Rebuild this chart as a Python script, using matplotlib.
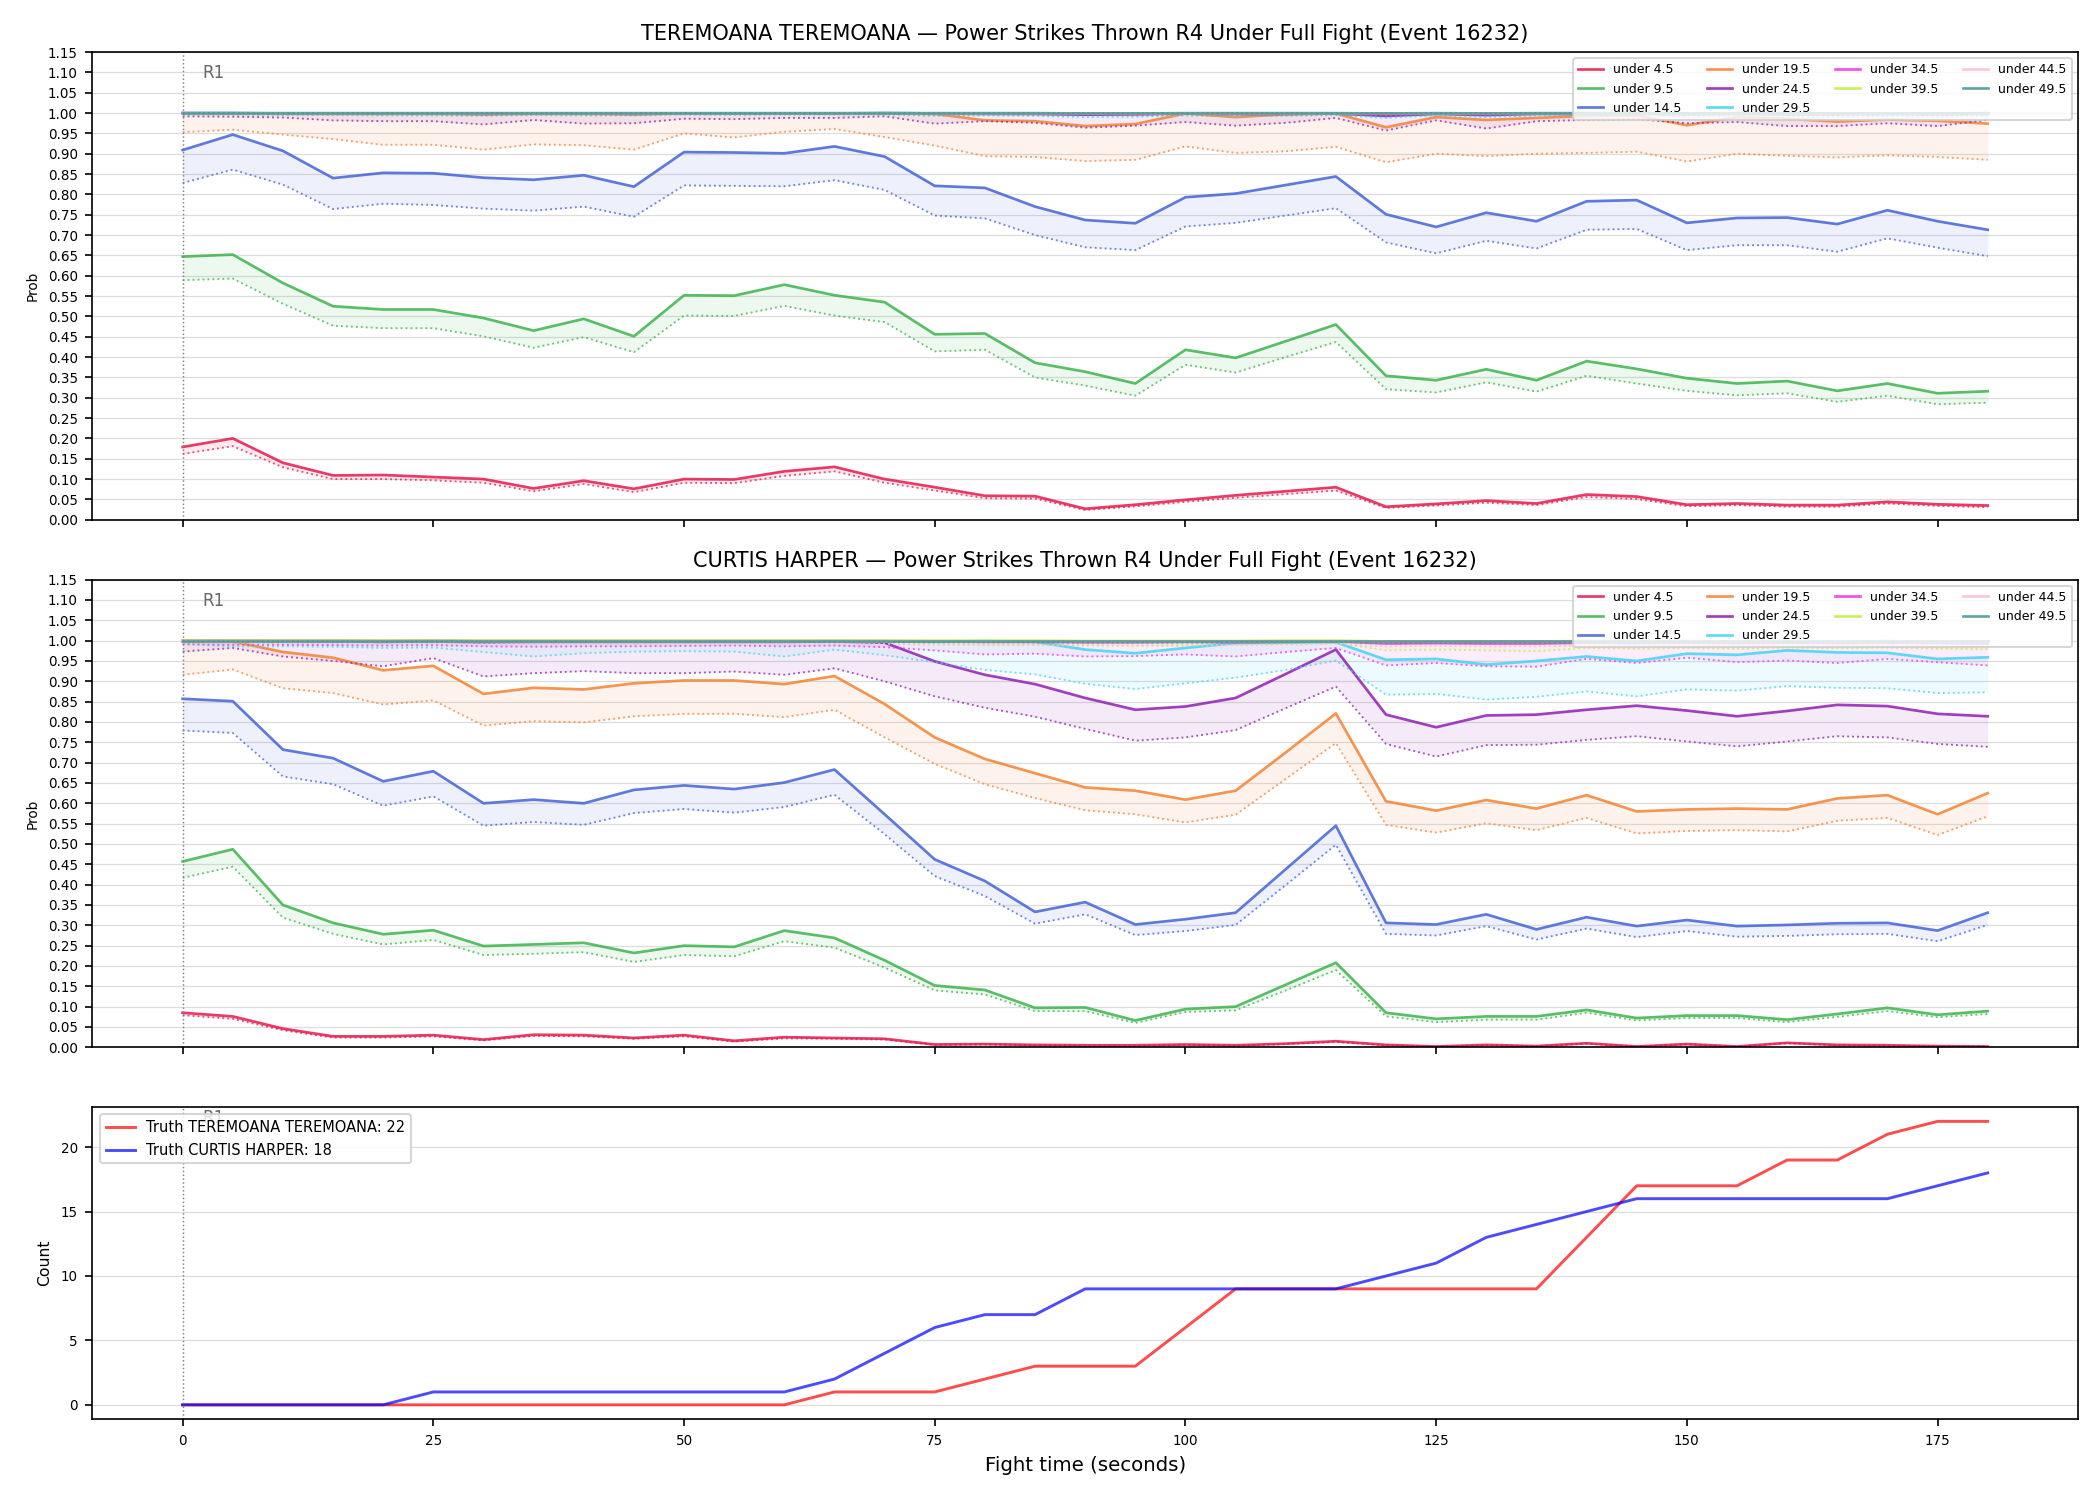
import matplotlib
matplotlib.use("Agg")
import matplotlib.pyplot as plt
import numpy as np
from matplotlib.ticker import FormatStrFormatter

times = list(range(0, 181, 5))

labels = ["under 4.5", "under 9.5", "under 14.5", "under 19.5", "under 24.5",
          "under 29.5", "under 34.5", "under 39.5", "under 44.5", "under 49.5"]
colors = ["#e6194b", "#3cb44b", "#4363d8", "#f58231", "#911eb4",
          "#42d4f4", "#f032e6", "#bfef45", "#fabed4", "#469990"]

# ---- TEREMOANA panel ----
top_u4_5 = [0.179, 0.200, 0.140, 0.109, 0.110, 0.105, 0.100, 0.077, 0.096, 0.076, 0.100, 0.099, 0.119, 0.130, 0.100, 0.080, 0.059, 0.058, 0.027, 0.037, 0.049, 0.060, 0.070, 0.080, 0.032, 0.039, 0.047, 0.040, 0.062, 0.057, 0.037, 0.040, 0.036, 0.036, 0.044, 0.038, 0.035]
top_u4_5_lo = [0.162, 0.181, 0.129, 0.100, 0.100, 0.097, 0.091, 0.070, 0.088, 0.068, 0.091, 0.090, 0.108, 0.119, 0.091, 0.072, 0.053, 0.052, 0.024, 0.033, 0.044, 0.054, 0.063, 0.072, 0.029, 0.035, 0.042, 0.036, 0.056, 0.051, 0.033, 0.036, 0.032, 0.032, 0.040, 0.034, 0.031]
top_u9_5 = [0.647, 0.652, 0.582, 0.525, 0.517, 0.517, 0.496, 0.465, 0.494, 0.451, 0.552, 0.551, 0.578, 0.552, 0.535, 0.456, 0.458, 0.386, 0.364, 0.335, 0.418, 0.398, 0.439, 0.480, 0.354, 0.343, 0.370, 0.343, 0.390, 0.371, 0.348, 0.335, 0.341, 0.317, 0.335, 0.311, 0.316]
top_u9_5_lo = [0.589, 0.593, 0.531, 0.477, 0.471, 0.471, 0.451, 0.423, 0.449, 0.412, 0.502, 0.501, 0.526, 0.502, 0.486, 0.414, 0.418, 0.350, 0.330, 0.305, 0.381, 0.362, 0.400, 0.437, 0.321, 0.313, 0.338, 0.315, 0.354, 0.335, 0.317, 0.306, 0.311, 0.290, 0.305, 0.284, 0.288]
top_u14_5 = [0.909, 0.947, 0.907, 0.840, 0.853, 0.852, 0.841, 0.836, 0.847, 0.819, 0.904, 0.903, 0.901, 0.918, 0.893, 0.821, 0.816, 0.770, 0.737, 0.729, 0.793, 0.802, 0.823, 0.844, 0.751, 0.720, 0.755, 0.734, 0.783, 0.786, 0.730, 0.742, 0.743, 0.727, 0.761, 0.734, 0.713]
top_u14_5_lo = [0.828, 0.861, 0.824, 0.764, 0.777, 0.774, 0.765, 0.760, 0.770, 0.745, 0.822, 0.821, 0.820, 0.835, 0.811, 0.748, 0.741, 0.700, 0.670, 0.663, 0.721, 0.730, 0.748, 0.766, 0.682, 0.655, 0.686, 0.667, 0.713, 0.715, 0.663, 0.675, 0.675, 0.659, 0.692, 0.669, 0.648]
top_u19_5 = [0.999, 0.999, 0.998, 0.998, 0.998, 0.998, 0.997, 0.998, 0.998, 0.997, 0.999, 0.999, 0.999, 0.999, 0.999, 0.998, 0.982, 0.980, 0.968, 0.973, 0.999, 0.990, 0.997, 0.999, 0.965, 0.990, 0.983, 0.988, 0.993, 0.994, 0.970, 0.990, 0.986, 0.979, 0.984, 0.981, 0.974]
top_u19_5_lo = [0.953, 0.959, 0.947, 0.936, 0.922, 0.922, 0.910, 0.923, 0.921, 0.910, 0.950, 0.940, 0.954, 0.961, 0.941, 0.920, 0.894, 0.892, 0.882, 0.885, 0.918, 0.902, 0.906, 0.917, 0.879, 0.900, 0.894, 0.900, 0.902, 0.905, 0.881, 0.900, 0.895, 0.891, 0.896, 0.892, 0.885]
top_u24_5 = [1.000, 1.000, 0.999, 0.999, 0.999, 0.999, 0.998, 0.999, 0.999, 0.998, 0.999, 0.999, 0.999, 0.999, 1.000, 0.999, 0.998, 0.998, 0.996, 0.997, 0.999, 0.998, 0.998, 0.999, 0.993, 0.998, 0.995, 0.998, 0.998, 0.998, 0.997, 0.998, 0.997, 0.997, 0.998, 0.997, 0.998]
top_u24_5_lo = [0.992, 0.991, 0.989, 0.982, 0.980, 0.980, 0.972, 0.983, 0.974, 0.975, 0.986, 0.985, 0.988, 0.988, 0.992, 0.974, 0.980, 0.976, 0.964, 0.969, 0.978, 0.969, 0.976, 0.988, 0.957, 0.982, 0.962, 0.980, 0.983, 0.985, 0.975, 0.978, 0.968, 0.968, 0.975, 0.968, 0.983]
top_u29_5 = [1.000, 1.000, 1.000, 1.000, 1.000, 1.000, 1.000, 1.000, 1.000, 1.000, 1.000, 1.000, 1.000, 1.000, 1.000, 1.000, 1.000, 1.000, 0.999, 0.999, 1.000, 1.000, 1.000, 1.000, 0.999, 1.000, 0.999, 1.000, 1.000, 1.000, 0.999, 1.000, 0.999, 0.999, 0.999, 0.999, 1.000]
top_u29_5_lo = [0.996, 0.996, 0.995, 0.995, 0.994, 0.994, 0.993, 0.995, 0.994, 0.994, 0.996, 0.995, 0.996, 0.996, 0.996, 0.993, 0.994, 0.993, 0.990, 0.991, 0.994, 0.992, 0.993, 0.995, 0.988, 0.994, 0.990, 0.994, 0.994, 0.995, 0.992, 0.993, 0.991, 0.991, 0.992, 0.991, 0.994]
top_u34_5 = [1.000, 1.000, 1.000, 1.000, 1.000, 1.000, 1.000, 1.000, 1.000, 1.000, 1.000, 1.000, 1.000, 1.000, 1.000, 1.000, 1.000, 1.000, 1.000, 1.000, 1.000, 1.000, 1.000, 1.000, 1.000, 1.000, 1.000, 1.000, 1.000, 1.000, 1.000, 1.000, 1.000, 1.000, 1.000, 1.000, 1.000]
top_u34_5_lo = [0.998, 0.998, 0.998, 0.997, 0.997, 0.997, 0.996, 0.997, 0.997, 0.996, 0.998, 0.998, 0.998, 0.998, 0.998, 0.996, 0.997, 0.996, 0.995, 0.995, 0.997, 0.996, 0.996, 0.997, 0.994, 0.997, 0.995, 0.997, 0.997, 0.997, 0.996, 0.996, 0.995, 0.995, 0.996, 0.995, 0.997]
top_u39_5 = [1.000, 1.000, 1.000, 1.000, 1.000, 1.000, 1.000, 1.000, 1.000, 1.000, 1.000, 1.000, 1.000, 1.000, 1.000, 1.000, 1.000, 1.000, 1.000, 1.000, 1.000, 1.000, 1.000, 1.000, 1.000, 1.000, 1.000, 1.000, 1.000, 1.000, 1.000, 1.000, 1.000, 1.000, 1.000, 1.000, 1.000]
top_u39_5_lo = [0.999, 0.999, 0.999, 0.999, 0.999, 0.999, 0.998, 0.999, 0.999, 0.998, 0.999, 0.999, 0.999, 0.999, 0.999, 0.998, 0.999, 0.998, 0.998, 0.998, 0.999, 0.998, 0.998, 0.999, 0.997, 0.999, 0.998, 0.999, 0.999, 0.999, 0.998, 0.998, 0.998, 0.998, 0.998, 0.998, 0.999]
top_u44_5 = [1.000, 1.000, 1.000, 1.000, 1.000, 1.000, 1.000, 1.000, 1.000, 1.000, 1.000, 1.000, 1.000, 1.000, 1.000, 1.000, 1.000, 1.000, 1.000, 1.000, 1.000, 1.000, 1.000, 1.000, 1.000, 1.000, 1.000, 1.000, 1.000, 1.000, 1.000, 1.000, 1.000, 1.000, 1.000, 1.000, 1.000]
top_u44_5_lo = [0.999, 0.999, 0.999, 0.999, 0.999, 0.999, 0.999, 0.999, 0.999, 0.999, 0.999, 0.999, 0.999, 0.999, 0.999, 0.999, 0.999, 0.999, 0.999, 0.999, 0.999, 0.999, 0.999, 0.999, 0.999, 0.999, 0.999, 0.999, 0.999, 0.999, 0.999, 0.999, 0.999, 0.999, 0.999, 0.999, 0.999]
top_u49_5 = [1.000, 1.000, 1.000, 1.000, 1.000, 1.000, 1.000, 1.000, 1.000, 1.000, 1.000, 1.000, 1.000, 1.000, 1.000, 1.000, 1.000, 1.000, 1.000, 1.000, 1.000, 1.000, 1.000, 1.000, 1.000, 1.000, 1.000, 1.000, 1.000, 1.000, 1.000, 1.000, 1.000, 1.000, 1.000, 1.000, 1.000]
top_u49_5_lo = [1.000, 1.000, 1.000, 1.000, 1.000, 1.000, 1.000, 1.000, 1.000, 1.000, 1.000, 1.000, 1.000, 1.000, 1.000, 1.000, 1.000, 1.000, 1.000, 1.000, 1.000, 1.000, 1.000, 1.000, 1.000, 1.000, 1.000, 1.000, 1.000, 1.000, 1.000, 1.000, 1.000, 1.000, 1.000, 1.000, 1.000]

# ---- CURTIS HARPER panel ----
mid_u4_5 = [0.085, 0.076, 0.046, 0.027, 0.027, 0.030, 0.019, 0.031, 0.030, 0.023, 0.030, 0.016, 0.025, 0.023, 0.021, 0.007, 0.008, 0.006, 0.005, 0.005, 0.007, 0.005, 0.009, 0.015, 0.006, 0.002, 0.006, 0.003, 0.010, 0.002, 0.008, 0.002, 0.011, 0.006, 0.005, 0.003, 0.002]
mid_u4_5_lo = [0.079, 0.070, 0.042, 0.024, 0.024, 0.027, 0.017, 0.028, 0.027, 0.021, 0.027, 0.014, 0.022, 0.021, 0.019, 0.006, 0.007, 0.005, 0.004, 0.004, 0.006, 0.004, 0.008, 0.013, 0.005, 0.002, 0.005, 0.003, 0.009, 0.002, 0.007, 0.002, 0.010, 0.005, 0.004, 0.003, 0.002]
mid_u9_5 = [0.457, 0.487, 0.350, 0.306, 0.278, 0.288, 0.249, 0.253, 0.257, 0.232, 0.250, 0.247, 0.287, 0.269, 0.214, 0.152, 0.141, 0.097, 0.098, 0.066, 0.094, 0.100, 0.154, 0.208, 0.085, 0.070, 0.076, 0.076, 0.092, 0.072, 0.078, 0.078, 0.068, 0.082, 0.097, 0.080, 0.089]
mid_u9_5_lo = [0.417, 0.444, 0.319, 0.279, 0.253, 0.264, 0.227, 0.230, 0.234, 0.210, 0.227, 0.224, 0.261, 0.245, 0.196, 0.140, 0.130, 0.089, 0.089, 0.060, 0.087, 0.091, 0.140, 0.190, 0.076, 0.062, 0.068, 0.068, 0.085, 0.066, 0.072, 0.072, 0.062, 0.075, 0.089, 0.074, 0.082]
mid_u14_5 = [0.857, 0.851, 0.732, 0.711, 0.654, 0.679, 0.600, 0.609, 0.600, 0.633, 0.644, 0.635, 0.651, 0.683, 0.573, 0.462, 0.409, 0.333, 0.357, 0.302, 0.315, 0.331, 0.438, 0.545, 0.306, 0.302, 0.327, 0.290, 0.320, 0.298, 0.313, 0.298, 0.301, 0.305, 0.306, 0.287, 0.331]
mid_u14_5_lo = [0.779, 0.773, 0.666, 0.647, 0.594, 0.617, 0.545, 0.554, 0.547, 0.576, 0.586, 0.577, 0.591, 0.621, 0.524, 0.421, 0.372, 0.304, 0.327, 0.276, 0.286, 0.301, 0.399, 0.498, 0.279, 0.275, 0.298, 0.265, 0.292, 0.271, 0.286, 0.272, 0.274, 0.278, 0.279, 0.261, 0.301]
mid_u19_5 = [0.999, 0.998, 0.972, 0.958, 0.927, 0.938, 0.869, 0.884, 0.880, 0.895, 0.902, 0.902, 0.893, 0.913, 0.844, 0.762, 0.709, 0.674, 0.639, 0.631, 0.609, 0.631, 0.725, 0.821, 0.605, 0.582, 0.608, 0.587, 0.620, 0.580, 0.585, 0.587, 0.585, 0.612, 0.620, 0.573, 0.625]
mid_u19_5_lo = [0.916, 0.929, 0.883, 0.871, 0.843, 0.853, 0.791, 0.802, 0.799, 0.814, 0.820, 0.820, 0.812, 0.830, 0.762, 0.697, 0.647, 0.613, 0.583, 0.573, 0.553, 0.572, 0.660, 0.748, 0.547, 0.528, 0.551, 0.534, 0.564, 0.526, 0.532, 0.534, 0.531, 0.557, 0.564, 0.522, 0.568]
mid_u24_5 = [0.999, 0.999, 0.998, 0.998, 0.997, 0.998, 0.996, 0.997, 0.997, 0.997, 0.997, 0.997, 0.997, 0.998, 0.995, 0.949, 0.916, 0.893, 0.859, 0.830, 0.838, 0.859, 0.918, 0.978, 0.818, 0.787, 0.816, 0.818, 0.830, 0.840, 0.828, 0.814, 0.827, 0.842, 0.839, 0.820, 0.814]
mid_u24_5_lo = [0.973, 0.982, 0.961, 0.950, 0.937, 0.957, 0.912, 0.920, 0.925, 0.920, 0.920, 0.924, 0.916, 0.932, 0.900, 0.863, 0.835, 0.813, 0.783, 0.754, 0.762, 0.780, 0.834, 0.887, 0.746, 0.715, 0.743, 0.744, 0.756, 0.765, 0.752, 0.740, 0.752, 0.765, 0.762, 0.746, 0.739]
mid_u29_5 = [0.999, 0.999, 0.999, 0.999, 0.999, 0.999, 0.998, 0.998, 0.998, 0.998, 0.998, 0.998, 0.998, 0.999, 0.998, 0.997, 0.999, 0.997, 0.978, 0.969, 0.982, 0.994, 0.995, 0.996, 0.953, 0.955, 0.941, 0.950, 0.961, 0.950, 0.968, 0.965, 0.976, 0.971, 0.970, 0.955, 0.959]
mid_u29_5_lo = [0.991, 0.986, 0.986, 0.985, 0.982, 0.983, 0.972, 0.961, 0.969, 0.973, 0.974, 0.973, 0.961, 0.978, 0.964, 0.947, 0.928, 0.917, 0.894, 0.881, 0.895, 0.909, 0.928, 0.951, 0.867, 0.869, 0.855, 0.862, 0.875, 0.863, 0.880, 0.877, 0.888, 0.884, 0.883, 0.871, 0.873]
mid_u34_5 = [1.000, 1.000, 1.000, 1.000, 0.999, 1.000, 0.999, 0.999, 0.999, 0.999, 0.999, 0.999, 0.999, 0.999, 0.999, 0.998, 0.997, 0.997, 0.996, 0.996, 0.997, 0.996, 0.997, 0.998, 0.993, 0.994, 0.993, 0.993, 0.995, 0.994, 0.995, 0.994, 0.995, 0.994, 0.995, 0.994, 0.993]
mid_u34_5_lo = [0.992, 0.990, 0.990, 0.989, 0.988, 0.989, 0.986, 0.985, 0.986, 0.986, 0.987, 0.988, 0.986, 0.988, 0.984, 0.976, 0.966, 0.968, 0.961, 0.962, 0.966, 0.961, 0.972, 0.982, 0.939, 0.945, 0.937, 0.936, 0.955, 0.945, 0.958, 0.947, 0.951, 0.945, 0.955, 0.947, 0.939]
mid_u39_5 = [1.000, 1.000, 1.000, 1.000, 1.000, 1.000, 1.000, 1.000, 1.000, 1.000, 1.000, 1.000, 1.000, 1.000, 1.000, 1.000, 1.000, 1.000, 0.999, 0.999, 0.999, 0.999, 1.000, 1.000, 0.998, 0.998, 0.998, 0.998, 0.999, 0.998, 0.999, 0.998, 0.999, 0.998, 0.999, 0.998, 0.998]
mid_u39_5_lo = [0.998, 0.997, 0.997, 0.997, 0.996, 0.997, 0.995, 0.995, 0.995, 0.995, 0.995, 0.995, 0.995, 0.996, 0.994, 0.992, 0.990, 0.990, 0.988, 0.987, 0.988, 0.990, 0.992, 0.994, 0.976, 0.978, 0.976, 0.974, 0.982, 0.980, 0.982, 0.980, 0.983, 0.981, 0.983, 0.980, 0.979]
mid_u44_5 = [1.000, 1.000, 1.000, 1.000, 1.000, 1.000, 1.000, 1.000, 1.000, 1.000, 1.000, 1.000, 1.000, 1.000, 1.000, 1.000, 1.000, 1.000, 1.000, 1.000, 1.000, 1.000, 1.000, 1.000, 1.000, 1.000, 1.000, 1.000, 1.000, 1.000, 1.000, 1.000, 1.000, 1.000, 1.000, 1.000, 1.000]
mid_u44_5_lo = [0.995, 0.994, 0.994, 0.994, 0.993, 0.994, 0.992, 0.992, 0.992, 0.992, 0.992, 0.992, 0.992, 0.993, 0.991, 0.990, 0.989, 0.989, 0.988, 0.988, 0.988, 0.989, 0.990, 0.992, 0.986, 0.987, 0.986, 0.986, 0.988, 0.987, 0.988, 0.987, 0.988, 0.987, 0.988, 0.987, 0.986]
mid_u49_5 = [1.000, 1.000, 1.000, 1.000, 1.000, 1.000, 1.000, 1.000, 1.000, 1.000, 1.000, 1.000, 1.000, 1.000, 1.000, 1.000, 1.000, 1.000, 1.000, 1.000, 1.000, 1.000, 1.000, 1.000, 1.000, 1.000, 1.000, 1.000, 1.000, 1.000, 1.000, 1.000, 1.000, 1.000, 1.000, 1.000, 1.000]
mid_u49_5_lo = [0.998, 0.998, 0.998, 0.998, 0.997, 0.998, 0.997, 0.997, 0.997, 0.997, 0.997, 0.997, 0.997, 0.997, 0.997, 0.996, 0.996, 0.996, 0.995, 0.995, 0.995, 0.996, 0.996, 0.997, 0.994, 0.994, 0.994, 0.994, 0.995, 0.994, 0.995, 0.994, 0.995, 0.994, 0.995, 0.994, 0.994]

# ---- cumulative truth counts ----
truth_teremoana = [0, 0, 0, 0, 0, 0, 0, 0, 0, 0, 0, 0, 0, 1, 1, 1, 2, 3, 3, 3, 6, 9, 9, 9, 9, 9, 9, 9, 13, 17, 17, 17, 19, 19, 21, 22, 22]
truth_harper = [0, 0, 0, 0, 0, 1, 1, 1, 1, 1, 1, 1, 1, 2, 4, 6, 7, 7, 9, 9, 9, 9, 9, 9, 10, 11, 13, 14, 15, 16, 16, 16, 16, 16, 16, 17, 18]

top_main = [top_u4_5, top_u9_5, top_u14_5, top_u19_5, top_u24_5, top_u29_5, top_u34_5, top_u39_5, top_u44_5, top_u49_5]
top_low = [top_u4_5_lo, top_u9_5_lo, top_u14_5_lo, top_u19_5_lo, top_u24_5_lo, top_u29_5_lo, top_u34_5_lo, top_u39_5_lo, top_u44_5_lo, top_u49_5_lo]
mid_main = [mid_u4_5, mid_u9_5, mid_u14_5, mid_u19_5, mid_u24_5, mid_u29_5, mid_u34_5, mid_u39_5, mid_u44_5, mid_u49_5]
mid_low = [mid_u4_5_lo, mid_u9_5_lo, mid_u14_5_lo, mid_u19_5_lo, mid_u24_5_lo, mid_u29_5_lo, mid_u34_5_lo, mid_u39_5_lo, mid_u44_5_lo, mid_u49_5_lo]


def prob_panel(ax, mains, lows, title):
    for m, lo, c, lab in zip(mains, lows, colors, labels):
        ax.fill_between(times, lo, m, color=c, alpha=0.09, lw=0)
        ax.plot(times, lo, color=c, lw=0.9, ls=":", alpha=0.75)
        ax.plot(times, m, color=c, lw=1.3, alpha=0.85, label=lab)
    ax.axvline(0, color="gray", ls=":", lw=0.7)
    ax.text(2, 1.098, "R1", color="dimgray", fontsize=8, va="center")
    ax.set_ylim(0, 1.15)
    ax.set_yticks(np.arange(0, 1.151, 0.05))
    ax.yaxis.set_major_formatter(FormatStrFormatter("%.2f"))
    ax.set_ylabel("Prob", fontsize=6.5)
    ax.set_title(title, fontsize=10)
    ax.grid(axis="y", color="#dddddd", lw=0.6)
    ax.set_axisbelow(True)
    ax.legend(loc="upper right", ncol=4, fontsize=6)
    ax.tick_params(labelsize=6.5)
    plt.setp(ax.get_xticklabels(), visible=False)


fig = plt.figure(figsize=(14, 10), dpi=150)
gs = fig.add_gridspec(3, 1, height_ratios=[3, 3, 2], left=0.044, right=0.9895,
                      top=0.9653, bottom=0.054, hspace=0.144)
ax1 = fig.add_subplot(gs[0])
ax2 = fig.add_subplot(gs[1], sharex=ax1)
ax3 = fig.add_subplot(gs[2], sharex=ax1)

prob_panel(ax1, top_main, top_low,
           "TEREMOANA TEREMOANA \u2014 Power Strikes Thrown R4 Under Full Fight (Event 16232)")
prob_panel(ax2, mid_main, mid_low,
           "CURTIS HARPER \u2014 Power Strikes Thrown R4 Under Full Fight (Event 16232)")

ax3.plot(times, truth_teremoana, color="red", alpha=0.7, lw=1.4, label="Truth TEREMOANA TEREMOANA: 22")
ax3.plot(times, truth_harper, color="blue", alpha=0.7, lw=1.4, label="Truth CURTIS HARPER: 18")
ax3.axvline(0, color="gray", ls=":", lw=0.7)
ax3.text(2, 22.3, "R1", color="dimgray", fontsize=8, va="center")
ax3.set_yticks([0, 5, 10, 15, 20])
ax3.set_ylabel("Count", fontsize=7.5)
ax3.set_xlabel("Fight time (seconds)", fontsize=9.5)
ax3.grid(axis="y", color="#dddddd", lw=0.6)
ax3.set_axisbelow(True)
ax3.legend(loc="upper left", fontsize=7)
ax3.tick_params(labelsize=6.5)

fig.savefig("out.png", dpi=150)
